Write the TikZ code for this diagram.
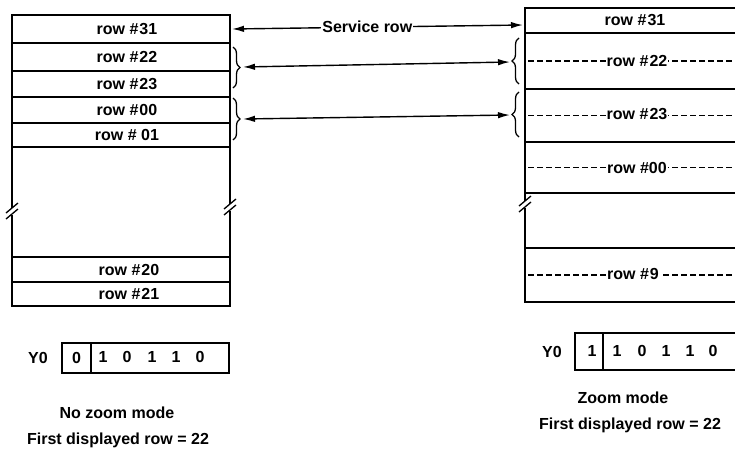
\documentclass[tikz,border=0pt]{standalone}
\usepackage{fontspec}
\setmainfont{Liberation Sans}
\usetikzlibrary{arrows.meta,decorations.pathreplacing}
\begin{document}
\begin{tikzpicture}[x=1pt,y=-1pt,
  every node/.style={font=\fontsize{16}{19}\selectfont\bfseries},
  rowL/.style={draw,line width=1.4pt,inner sep=0pt,outer sep=0pt,anchor=north west,minimum width=218pt},
  rowR/.style={draw,line width=1.4pt,inner sep=0pt,outer sep=0pt,anchor=north west,minimum width=220pt},
  dashrule/.style={line width=1.8pt,dash pattern=on 6pt off 3pt},
  dlabel/.style={fill=white,inner xsep=1pt,inner ysep=1pt},
  bracestyle/.style={line width=1.3pt,decorate,decoration={brace,amplitude=7pt}},
  biarrow/.style={line width=1.4pt,{Latex[length=12pt,width=6.5pt]}-{Latex[length=12pt,width=6.5pt]}},
  regbox/.style={draw,line width=1.3pt,inner sep=0pt,outer sep=0pt,anchor=north west},
  brk/.pic={
    \fill[white] (-2.5,-3.5) rectangle (2.5,3.5);
    \draw[line width=1.3pt] (-6,2) -- (6,-8);
    \draw[line width=1.3pt] (-6,8) -- (6,-2);
  }
]
\useasboundingbox (0,0) rectangle (735,455);
\clip (0,0) rectangle (735,455);

% ---------- left table ----------
\node[rowL,minimum height=28pt] (L31) at (12,15) {};
\node[rowL,minimum height=28pt] (L22) at (12,43) {};
\node[rowL,minimum height=26pt] (L23) at (12,71) {};
\node[rowL,minimum height=26pt] (L00) at (12,97) {};
\node[rowL,minimum height=24pt] (L01) at (12,123) {};
\node[rowL,minimum height=110pt] (Lgap) at (12,147) {};
\node[rowL,minimum height=25pt] (L20) at (12,257) {};
\node[rowL,minimum height=24pt] (L21) at (12,282) {};
\node (L31t) at ([xshift=6pt]L31.center) {row \#\kern1pt31};
\node (L22t) at ([xshift=6pt]L22.center) {row \#\kern1pt22};
\node (L23t) at ([xshift=6pt]L23.center) {row \#\kern1pt23};
\node (L00t) at ([xshift=6pt]L00.center) {row \#\kern1pt00};
\node (L01t) at ([xshift=6pt]L01.center) {row \# 01};
\node (L20t) at ([xshift=8pt]L20.center) {row \#\kern1pt20};
\node (L21t) at ([xshift=8pt]L21.center) {row \#\kern1pt21};
\pic at (12,211) {brk};
\pic at (230,207) {brk};

% ---------- right table ----------
\node[rowR,minimum height=25pt] (R31) at (525,8) {};
\node (R31t) at (R31.center) {row \#\kern1pt31};
\node[rowR,minimum height=56pt] (R22) at (525,33) {};
\node[rowR,minimum height=53pt] (R23) at (525,89) {};
\node[rowR,minimum height=51pt] (R00) at (525,142) {};
\node[rowR,minimum height=55pt] (Rgap) at (525,193) {};
\node[rowR,minimum height=54pt] (R9) at (525,248) {};
\pic at (525,204) {brk};

\draw[dashrule] ([xshift=3pt]R22.west) -- (R22.east);
\node[dlabel] (R22t) at ([xshift=2pt]R22.center) {row \#\kern1pt22};
\draw[dashrule] ([xshift=3pt]R23.west) -- (R23.east);
\node[dlabel] (R23t) at ([xshift=2pt,yshift=1pt]R23.center) {row \#\kern1pt23};
\draw[dashrule] ([xshift=3pt]R00.west) -- (R00.east);
\node[dlabel] (R00t) at ([xshift=2pt]R00.center) {row \#00};
\draw[dashrule] ([xshift=3pt]R9.west) -- (R9.east);
\node[dlabel] (R9t) at ([xshift=-2pt,yshift=1pt]R9.center) {row \#\kern1pt9};

% ---------- braces ----------
\draw[bracestyle] (233,47) -- (233,88);
\draw[bracestyle] (233,98) -- (233,140);
\draw[bracestyle] (519,84) -- (519,38);
\draw[bracestyle] (519,137) -- (519,92);
\coordinate (lb1) at (243,67);
\coordinate (rb1) at (510,62);
\coordinate (lb2) at (243,119);
\coordinate (rb2) at (510,115);
\draw[biarrow] (lb1) -- (rb1);
\draw[biarrow] (lb2) -- (rb2);

% ---------- service row ----------
\coordinate (s1) at (232,29);
\coordinate (s2) at (523,25);
\draw[biarrow] (s1) -- node[pos=0.465,fill=white,inner xsep=1pt,inner ysep=0pt] (srv) {Service row} (s2);

% ---------- left register ----------
\node (Y0L) at (38,358) {Y0};
\node[regbox,minimum width=167pt,minimum height=30pt] (regL) at (62,343) {};
\node[regbox,minimum width=29pt,minimum height=30pt] (bitL) at (62,343) {};
\node (bitLv) at (bitL.center) {0};
\foreach \x/\v [count=\i] in {103/1,127/0,152/1,176/1,200/0}
  \node (dL\i) at (\x,357) {\v};
\node (nzm) at (117,413) {No zoom mode};
\node (fdL) at (118,440) {First displayed row = 22};

% ---------- right register ----------
\node (Y0R) at (552,352) {Y0};
\node[regbox,minimum width=175pt,minimum height=37pt] (regR) at (575,333) {};
\node[regbox,minimum width=28pt,minimum height=37pt] (bitR) at (575,333) {};
\node (bitRv) at (592,351) {1};
\foreach \x/\v [count=\i] in {617/1,642/0,666/1,690/1,713/0}
  \node (dR\i) at (\x,351) {\v};
\node (zm) at (623,398) {Zoom mode};
\node (fdR) at (630,425) {First displayed row = 22};
\end{tikzpicture}
\end{document}
